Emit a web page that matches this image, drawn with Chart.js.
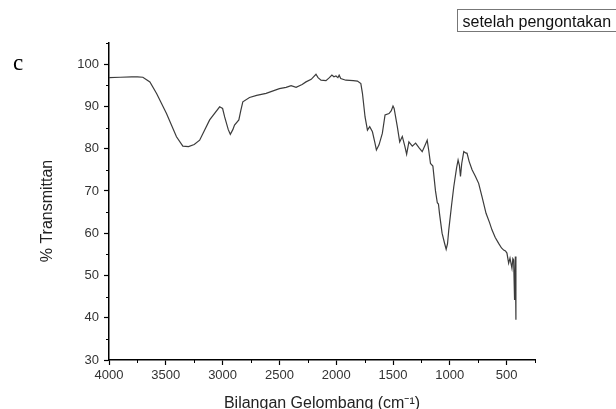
<!DOCTYPE html>
<html>
<head>
<meta charset="utf-8">
<script src="https://cdn.jsdelivr.net/npm/chart.js@4"></script>
<style>
html,body{margin:0;padding:0;background:#fff;}
#wrap{width:616px;height:409px;position:relative;}
</style>
</head>
<body>
<div id="wrap"><canvas id="c" width="616" height="409"></canvas></div>
<script>
const panelLabel = "c";
const seriesLabel = "setelah pengontakan";
const xTitle = "Bilangan Gelombang (cm\u207B\u00B9)";
const yTitle = "% Transmittan";

const xTicks = [4000, 3500, 3000, 2500, 2000, 1500, 1000, 500];
const xMinorTicks = [3750, 3250, 2750, 2250, 1750, 1250, 750, 250];
const yTicks = [30, 40, 50, 60, 70, 80, 90, 100];
const yMinorTicks = [35, 45, 55, 65, 75, 85, 95, 105];

const wavenumber = [
  4000, 3900, 3800, 3750, 3702, 3640, 3580, 3494, 3406, 3350, 3300, 3250, 3202, 3114, 3026,
  3000, 2982, 2950, 2932, 2910, 2895, 2857, 2840, 2822, 2763, 2700, 2617, 2500, 2441, 2397,
  2353, 2300, 2266, 2220, 2178, 2160, 2134, 2090, 2060, 2038, 2020, 2002, 1985, 1974, 1960,
  1915, 1850, 1813, 1783, 1769, 1746, 1725, 1705, 1681, 1660, 1646, 1623, 1594, 1570, 1535,
  1515, 1500, 1490, 1462, 1441, 1418, 1395, 1380, 1360, 1330, 1301, 1270, 1243, 1215, 1199,
  1185, 1170, 1149, 1126, 1110, 1100, 1090, 1068, 1045, 1032, 1020, 1009, 985, 965, 940,
  927, 915, 906, 895, 877, 860, 848, 830, 804, 775, 746, 715, 681, 650, 629,
  600, 570, 545, 526, 510, 497, 482, 470, 453, 445, 438, 430, 423, 418
];
const transmittance = [
  96.8, 96.9, 97.0, 97.0, 96.9, 95.8, 93.0, 88.3, 82.8, 80.6, 80.5, 81.0, 82.0, 86.8, 89.9,
  89.5, 87.5, 84.5, 83.4, 84.5, 85.6, 86.8, 89.0, 91.1, 92.1, 92.6, 93.1, 94.2, 94.5, 94.9,
  94.5, 95.2, 95.8, 96.4, 97.6, 96.8, 96.2, 96.1, 96.8, 97.4, 97.0, 97.2, 96.8, 97.4, 96.6,
  96.2, 96.1, 96.0, 95.4, 93.1, 87.5, 84.4, 85.2, 84.0, 81.5, 79.7, 80.9, 83.6, 88.0, 88.3,
  89.0, 90.1, 89.5, 85.2, 81.6, 82.9, 80.5, 78.7, 81.6, 80.6, 81.3, 80.2, 79.3, 81.0, 82.0,
  79.5, 76.5, 75.9, 70.0, 67.2, 66.9, 64.5, 60.0, 57.5, 56.2, 57.5, 60.8, 66.5, 71.0, 75.5,
  77.3, 76.0, 73.4, 76.5, 79.3, 79.0, 78.9, 77.0, 75.0, 73.5, 71.8, 68.5, 64.7, 62.5, 60.8,
  59.0, 57.6, 56.5, 56.0, 55.8, 55.3, 52.9, 54.1, 51.7, 54.0, 53.7, 44.2, 54.5, 39.5
];

const points = wavenumber.map((w, i) => ({x: w, y: transmittance[i]}));

const FONT = "'Liberation Sans', Arial, sans-serif";

const decorPlugin = {
  id: 'decor',
  afterDraw(chart) {
    const ctx = chart.ctx;
    const xs = chart.scales.x, ys = chart.scales.y;
    const ca = chart.chartArea;
    ctx.save();
    // minor ticks
    ctx.strokeStyle = '#000';
    ctx.lineWidth = 1;
    ctx.beginPath();
    xMinorTicks.forEach(v => {
      const px = Math.round(xs.getPixelForValue(v)) + 0.5;
      ctx.moveTo(px, ca.bottom);
      ctx.lineTo(px, ca.bottom + 3);
    });
    yMinorTicks.forEach(v => {
      const py = Math.round(ys.getPixelForValue(v)) + 0.5;
      ctx.moveTo(ca.left - 3, py);
      ctx.lineTo(ca.left, py);
    });
    ctx.stroke();
    // y title
    ctx.fillStyle = '#222';
    ctx.font = "16px " + FONT;
    ctx.textAlign = 'center';
    ctx.textBaseline = 'middle';
    ctx.translate(48, 211);
    ctx.rotate(-Math.PI / 2);
    ctx.fillText(yTitle, 0, 0);
    ctx.restore();

    ctx.save();
    // panel label
    ctx.fillStyle = '#000';
    ctx.font = "23px 'Liberation Serif', 'Times New Roman', serif";
    ctx.textAlign = 'left';
    ctx.textBaseline = 'alphabetic';
    ctx.fillText(panelLabel, 13, 69.5);
    // legend box
    ctx.strokeStyle = '#777';
    ctx.lineWidth = 1;
    ctx.strokeRect(457.5, 9.5, 200, 22);
    ctx.fillStyle = '#111';
    ctx.font = "16px " + FONT;
    ctx.fillText(seriesLabel, 462.5, 26.5);
    ctx.restore();
  }
};

new Chart(document.getElementById('c'), {
  type: 'line',
  data: {
    datasets: [{
      label: seriesLabel,
      data: points,
      borderColor: '#3c3c3c',
      borderWidth: 1.2,
      pointRadius: 0,
      tension: 0,
      fill: false
    }]
  },
  options: {
    responsive: false,
    animation: false,
    layout: {padding: {left: 0, top: 43, right: 81, bottom: 0}},
    plugins: {legend: {display: false}, tooltip: {enabled: false}},
    scales: {
      x: {
        type: 'linear',
        reverse: true,
        min: 250,
        max: 4000,
        afterBuildTicks: s => { s.ticks = xTicks.map(v => ({value: v})); },
        afterFit: s => { s.height = 49; },
        grid: {display: true, drawOnChartArea: false, drawTicks: true, tickLength: 5, tickColor: '#000', tickWidth: 1.2},
        border: {display: true, color: '#000', width: 1.5},
        ticks: {color: '#333', font: {family: FONT, size: 13}, padding: 3, autoSkip: false, maxRotation: 0,
                callback: v => String(v)},
        title: {display: true, text: xTitle, color: '#222', font: {family: FONT, size: 16, lineHeight: 1}, padding: {top: 0, bottom: -3}}
      },
      y: {
        type: 'linear',
        min: 30,
        max: 105,
        afterBuildTicks: s => { s.ticks = yTicks.map(v => ({value: v})); },
        afterFit: s => { s.width = 109; },
        grid: {display: true, drawOnChartArea: false, drawTicks: true, tickLength: 5, tickColor: '#000', tickWidth: 1.2},
        border: {display: true, color: '#000', width: 1.5},
        ticks: {color: '#333', font: {family: FONT, size: 13}, padding: 5, callback: v => String(v)}
      }
    }
  },
  plugins: [decorPlugin]
});
</script>
</body>
</html>
